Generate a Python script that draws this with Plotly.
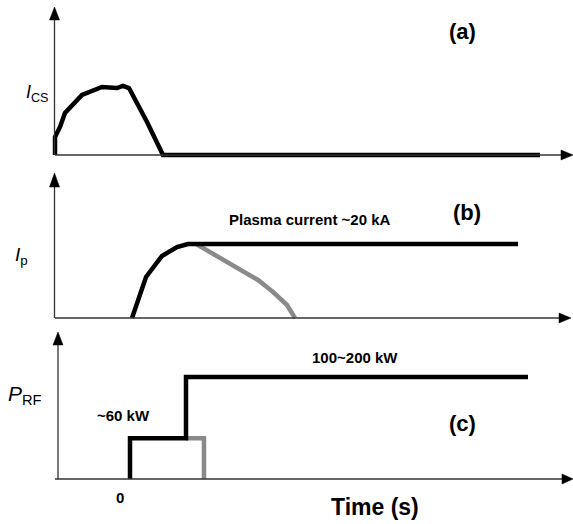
import plotly.graph_objects as go

W, H = 573, 524

# ---------------- data (schematic, arbitrary time units; t=0 at RF start) ----------------
# Panel (a): central-solenoid current (normalised)
t_cs = [-1.339, -1.339, -1.25, -1.161, -0.857, -0.571, -0.5, -0.232, -0.125, -0.018, 0.125, 0.304, 0.589, 7.321]
i_cs = [0, 0.265, 0.412, 0.618, 0.882, 0.971, 1.0, 0.985, 1.015, 0.985, 0.765, 0.485, 0, 0]

# Panel (b): plasma current (normalised, ~20 kA plateau)
t_ip_sustained = [0.036, 0.125, 0.286, 0.571, 0.839, 1.036, 1.2, 6.929]
i_ip_sustained = [0, 0.203, 0.554, 0.838, 0.959, 1.0, 1.0, 1.0]
t_ip_decay = [1.18, 1.518, 1.839, 2.107, 2.286, 2.554, 2.804, 2.946]
i_ip_decay = [1.0, 0.851, 0.716, 0.608, 0.514, 0.351, 0.176, 0]

# Panel (c): RF power (kW)
t_rf_main = [0, 0, 1, 1, 7.107]
p_rf_main = [0, 60, 60, 150, 150]
t_rf_pre = [1, 1.321, 1.321]
p_rf_pre = [60, 60, 0]

BLACK = "#000000"
GRAY = "#8a8a8a"
LW = 4.5

fig = go.Figure()
fig.add_trace(go.Scatter(x=t_cs, y=i_cs, mode="lines", line=dict(color=BLACK, width=LW), xaxis="x", yaxis="y"))
fig.add_trace(go.Scatter(x=t_ip_decay, y=i_ip_decay, mode="lines", line=dict(color=GRAY, width=LW), xaxis="x", yaxis="y2"))
fig.add_trace(go.Scatter(x=t_ip_sustained, y=i_ip_sustained, mode="lines", line=dict(color=BLACK, width=LW), xaxis="x", yaxis="y2"))
fig.add_trace(go.Scatter(x=t_rf_pre, y=p_rf_pre, mode="lines", line=dict(color=GRAY, width=LW), xaxis="x", yaxis="y3"))
fig.add_trace(go.Scatter(x=t_rf_main, y=p_rf_main, mode="lines", line=dict(color=BLACK, width=LW), xaxis="x", yaxis="y3"))


def px(x):
    return x / W


def py(y):
    return 1 - y / H


AX = "#333333"
shapes = []


def axis_pair(xv, y_base, y_tip, y_head, x_start, x_tip, x_head, hw=5):
    shapes.append(dict(type="line", xref="paper", yref="paper", x0=px(xv), x1=px(xv),
                       y0=py(y_base), y1=py(y_head), line=dict(color=AX, width=1.3)))
    shapes.append(dict(type="line", xref="paper", yref="paper", x0=px(x_start), x1=px(x_head),
                       y0=py(y_base), y1=py(y_base), line=dict(color=AX, width=1.3)))
    shapes.append(dict(type="path", xref="paper", yref="paper",
                       path=f"M {px(xv-hw)},{py(y_head)} L {px(xv)},{py(y_tip)} L {px(xv+hw)},{py(y_head)} Z",
                       fillcolor=BLACK, line=dict(color=BLACK, width=0.5)))
    shapes.append(dict(type="path", xref="paper", yref="paper",
                       path=f"M {px(x_head)},{py(y_base-hw)} L {px(x_tip)},{py(y_base)} L {px(x_head)},{py(y_base+hw)} Z",
                       fillcolor=BLACK, line=dict(color=BLACK, width=0.5)))


axis_pair(54.5, 155, 7, 20, 55, 573, 561)
axis_pair(54.5, 318, 173, 187, 55, 571, 559)
axis_pair(58, 479, 332, 345, 55, 573, 562)

FONT = "Liberation Sans, Arial, sans-serif"


def label(text, x, y, size, **kw):
    return dict(text=text, x=px(x), y=py(y), xref="paper", yref="paper", showarrow=False,
                xanchor="center", yanchor="middle", font=dict(family=FONT, size=size, color=BLACK), **kw)


annotations = [
    label("<b>(a)</b>", 462, 31, 22),
    label("<b>(b)</b>", 467, 212, 22),
    label("<b>(c)</b>", 463, 423, 22),
    label("<b>Plasma current ~20 kA</b>", 310, 219, 15),
    label("<b>100~200 kW</b>", 355, 357, 15),
    label("<b>~60 kW</b>", 123, 415, 15),
    label("<b>Time (s)</b>", 375, 507, 23),
    label("<i>I</i><sub>CS</sub>", 37, 93, 18),
    label("<i>I</i><sub>p</sub>", 21, 256, 19),
    label("<i>P</i><sub>RF</sub>", 25, 395, 21),
]
annotations.append(dict(text="<b>0</b>", x=0, xref="x", y=py(497), yref="paper", showarrow=False,
                        xanchor="center", yanchor="middle", xshift=-10,
                        font=dict(family=FONT, size=15, color=BLACK)))

fig.update_layout(
    width=W, height=H,
    margin=dict(l=0, r=0, t=0, b=0),
    paper_bgcolor="white", plot_bgcolor="white",
    showlegend=False,
    xaxis=dict(range=[-130 / 56, (W - 130) / 56], domain=[0, 1], visible=False, fixedrange=True),
    yaxis=dict(range=[-15 / 68, 155 / 68], domain=[1 - 170 / H, 1], visible=False, anchor="x"),
    yaxis2=dict(range=[-12 / 74, 148 / 74], domain=[1 - 330 / H, 1 - 170 / H], visible=False, anchor="x"),
    yaxis3=dict(range=[-45 / 0.68, 149 / 0.68], domain=[0, 1 - 330 / H], visible=False, anchor="x"),
    shapes=shapes,
    annotations=annotations,
)

fig.write_html("out.html")
